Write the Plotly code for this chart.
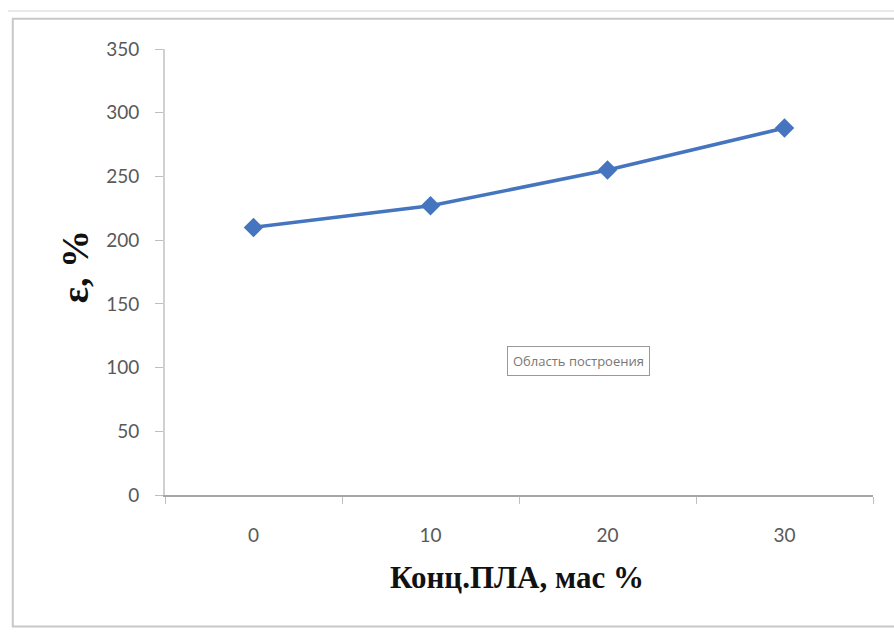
import plotly.graph_objects as go

categories = ["0", "10", "20", "30"]
elongation = [210, 227, 255, 288]
y_ticks = [0, 50, 100, 150, 200, 250, 300, 350]

fig = go.Figure()
fig.add_trace(go.Scatter(
    x=categories, y=elongation, mode="lines+markers",
    line=dict(color="#4475BE", width=3.5),
    marker=dict(symbol="diamond", size=15, color="#4475BE"),
    showlegend=False, hoverinfo="skip"))

tickfont = dict(family="Lato, Open Sans, sans-serif", size=19, color="#595959")
serif = "Liberation Serif, Times New Roman, serif"

fig.update_layout(
    width=894, height=632,
    margin=dict(l=165, r=21, t=49, b=137),
    paper_bgcolor="white", plot_bgcolor="white",
    xaxis=dict(type="category", range=[-0.5, 3.5], tickson="boundaries",
               ticks="outside", ticklen=7, tickcolor="#BFBFBF",
               showline=True, linecolor="#A6A6A6", linewidth=1.5,
               showgrid=False, tickfont=tickfont, ticklabelstandoff=22),
    yaxis=dict(range=[0, 350], tickvals=y_ticks, ticks="outside", ticklen=8,
               tickcolor="#BFBFBF", showline=True, linecolor="#D0D0D0", linewidth=2,
               showgrid=False, zeroline=False, tickfont=tickfont, ticklabelstandoff=12),
    shapes=[
        dict(type="rect", xref="paper", yref="paper", x0=-0.215, x1=1.2, y0=-0.295, y1=1.068,
             line=dict(color="#C8C8C8", width=2), fillcolor="rgba(0,0,0,0)", layer="below"),
        dict(type="line", xref="paper", yref="paper", x0=-0.222, x1=1.2, y0=1.085, y1=1.085,
             line=dict(color="#E2E2E2", width=1.5), layer="below"),
    ],
    annotations=[
        dict(text="<b>Конц.ПЛА, мас %</b>", xref="paper", yref="paper", x=0.497, y=-0.186,
             xanchor="center", yanchor="middle", showarrow=False,
             font=dict(family=serif, size=31, color="#111111")),
        dict(text="<b>ε, %</b>", xref="paper", yref="paper", x=-0.127, y=0.511,
             xanchor="center", yanchor="middle", textangle=-90, showarrow=False,
             font=dict(family=serif, size=38, color="#111111")),
        dict(text="Область построения", xref="paper", yref="paper", x=0.584, y=0.30,
             xanchor="center", yanchor="middle", showarrow=False,
             font=dict(family="Liberation Sans Narrow, Open Sans, sans-serif", size=13, color="#777777"),
             bordercolor="#999999", borderwidth=1, borderpad=5, bgcolor="white"),
    ],
)

fig.write_html("out.html")
